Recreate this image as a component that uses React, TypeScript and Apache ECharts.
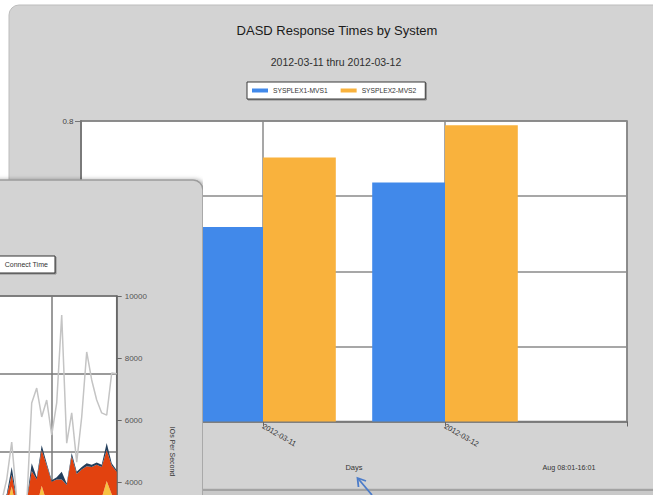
import React, { useEffect, useRef } from 'react';
import * as echarts from 'echarts';

// ---------- main chart data ----------
const mainTitle = 'DASD Response Times by System';
const mainSubtitle = '2012-03-11 thru 2012-03-12';
const mainCategories = ['', '2012-03-11', '2012-03-12', ''];
const mainSeriesNames = ['SYSPLEX1-MVS1', 'SYSPLEX2-MVS2'];
const sysplex1Mvs1 = [null, 0.518, 0.636, null];
const sysplex2Mvs2 = [null, 0.703, 0.789, null];
const xAxisName = 'Days';
const shiftLabel = 'Aug 08:01-16:01';

// ---------- overlapping panel data ----------
const panelTimes = ['13:00', '13:02', '13:04', '13:06', '13:08', '13:10', '13:12', '13:14', '13:16', '13:18', '13:20', '13:22', '13:24', '13:26', '13:28', '13:30', '13:32', '13:34', '13:36', '13:38', '13:40', '13:42', '13:44', '13:46', '13:48'];
const panelSeriesNames = ['IO Rate', 'Pend Time', 'Disconnect Time', 'Connect Time'];
const panelLegendItems = ['Connect Time'];
const ioRate = [3600, 3400, 4100, 5300, 3500, 3000, 3300, 6560, 7040, 6110, 6655, 5530, 6560, 9390, 5270, 6240, 4660, 6110, 8200, 7300, 6655, 6240, 6170, 7525, 7500];
const pendTime = [1.30, 1.25, 1.30, 1.55, 1.25, 1.15, 1.22, 1.35, 1.30, 1.56, 1.35, 1.30, 1.32, 1.36, 1.30, 1.38, 1.32, 1.35, 1.36, 1.33, 1.38, 1.40, 1.62, 1.45, 1.35];
const disconnectTime = [0.12, 0.11, 0.12, 0.15, 0.13, 0.13, 0.14, 0.40, 0.34, 0.46, 0.47, 0.31, 0.32, 0.28, 0.27, 0.56, 0.39, 0.42, 0.45, 0.47, 0.45, 0.40, 0.40, 0.37, 0.39];
const connectTime = [0.02, 0.02, 0.03, 0.10, 0.02, 0.02, 0.02, 0.10, 0.03, 0.06, 0.03, 0.02, 0.03, 0.10, 0.02, 0.04, 0.03, 0.03, 0.04, 0.03, 0.03, 0.03, 0.09, 0.03, 0.02];
const rightAxisName = 'IOs Per Second';

const FONT = '"Liberation Sans", Arial, Helvetica, sans-serif';
const PANEL_GRAY = '#d3d3d3';
const GRID_LINE = '#8a8a8a';

function mainOption(): any {
  return {
    animation: false,
    backgroundColor: '#ffffff',
    textStyle: { fontFamily: FONT },
    title: [
      {
        text: mainTitle, left: 337, top: 24, textAlign: 'center', padding: 0,
        textStyle: { fontFamily: FONT, fontSize: 13, fontWeight: 'normal', color: '#1a1a1a' },
      },
      {
        text: mainSubtitle, left: 336, top: 56, textAlign: 'center', padding: 0,
        textStyle: { fontFamily: FONT, fontSize: 10.5, fontWeight: 'normal', color: '#2e2e2e' },
      },
    ],
    legend: {
      data: mainSeriesNames,
      left: 247, top: 82,
      padding: [5, 9, 5, 5],
      itemWidth: 16, itemHeight: 4, itemGap: 13,
      icon: 'rect',
      backgroundColor: '#ffffff',
      borderColor: '#3a3a3a', borderWidth: 1,
      shadowColor: 'rgba(0,0,0,0.35)', shadowOffsetX: 1, shadowOffsetY: 1, shadowBlur: 1,
      textStyle: { fontFamily: FONT, fontSize: 6.7, color: '#333' },
    },
    grid: {
      left: 81, top: 121, right: 26, bottom: 73.5,
      show: true, backgroundColor: '#ffffff', borderColor: '#777', borderWidth: 1.5,
    },
    xAxis: {
      type: 'category',
      data: mainCategories,
      boundaryGap: false,
      name: xAxisName,
      nameLocation: 'middle',
      nameGap: 42,
      nameTextStyle: { fontFamily: FONT, fontSize: 7.5, color: '#333' },
      axisLine: { lineStyle: { color: '#777', width: 1.5 } },
      axisTick: { show: true, length: 5, interval: 0, lineStyle: { color: '#666' } },
      axisLabel: { interval: 0, rotate: -30, fontSize: 7.5, color: '#333', margin: 4 },
      splitLine: { show: true, interval: 0, lineStyle: { color: GRID_LINE, width: 1.5 } },
    },
    yAxis: {
      type: 'value', min: 0, max: 0.8, interval: 0.2,
      axisLine: { show: true, lineStyle: { color: '#7a7a7a', width: 2 } },
      axisTick: { show: true, length: 6, lineStyle: { color: '#777' } },
      axisLabel: { fontSize: 8, color: '#444', margin: 7.5, formatter: (v: number) => v.toFixed(1) },
      splitLine: { lineStyle: { color: GRID_LINE, width: 1.5 } },
    },
    series: [
      {
        name: mainSeriesNames[0], type: 'bar', data: sysplex1Mvs1,
        barWidth: '40%', barGap: '0%', itemStyle: { color: '#4189ea' },
      },
      {
        name: mainSeriesNames[1], type: 'bar', data: sysplex2Mvs2,
        barWidth: '40%', barGap: '0%', itemStyle: { color: '#f9b23d' },
      },
    ],
    graphic: [
      {
        type: 'rect', z: -10,
        shape: { x: 9, y: 5, width: 700, height: 484, r: 10 },
        style: { fill: PANEL_GRAY, stroke: '#bdbdbd', lineWidth: 1 },
      },
      {
        type: 'rect', z: -9,
        shape: { x: 0, y: 489, width: 653, height: 6 },
        style: { fill: '#c9c9c9' },
      },
      {
        type: 'line', z: -8,
        shape: { x1: 0, y1: 490, x2: 653, y2: 490 },
        style: { stroke: '#a3a3a3', lineWidth: 2 },
      },
      {
        type: 'text', z: 10, x: 569, y: 467,
        style: { text: shiftLabel, fontFamily: FONT, fontSize: 7.2, fill: '#333', textAlign: 'center', textVerticalAlign: 'middle' },
      },
      {
        type: 'polyline', z: 20,
        shape: { points: [[366, 481], [357.5, 478], [358.5, 487]] },
        style: { stroke: '#4c7cc9', lineWidth: 1.8, fill: 'none' },
      },
      {
        type: 'line', z: 20,
        shape: { x1: 358, y1: 478.5, x2: 372, y2: 495 },
        style: { stroke: '#4c7cc9', lineWidth: 1.8 },
      },
    ],
  };
}

function panelOption(): any {
  return {
    animation: false,
    backgroundColor: 'transparent',
    textStyle: { fontFamily: FONT },
    graphic: [
      {
        type: 'rect', z: -10,
        shape: { x: -10, y: 180, width: 513, height: 470, r: 10 },
        style: {
          fill: PANEL_GRAY, stroke: '#9c9c9c', lineWidth: 1.5,
          shadowColor: 'rgba(0,0,0,0.3)', shadowBlur: 4, shadowOffsetX: 2,
        },
      },
    ],
    legend: {
      data: panelLegendItems,
      right: 148, top: 256,
      padding: [5, 7, 5, 10],
      itemWidth: 14, itemHeight: 7, itemGap: 10,
      backgroundColor: '#ffffff',
      borderColor: '#333', borderWidth: 1,
      shadowColor: 'rgba(0,0,0,0.35)', shadowOffsetX: 1, shadowOffsetY: 1, shadowBlur: 1,
      textStyle: { fontFamily: FONT, fontSize: 7, color: '#333' },
    },
    grid: {
      left: 296.7, right: 86.3, top: 296, bottom: 13,
      show: true, backgroundColor: '#ffffff', borderColor: '#6e6e6e', borderWidth: 1.5,
    },
    xAxis: {
      type: 'category', data: panelTimes, boundaryGap: false,
      axisLabel: { show: false }, axisTick: { show: false },
      axisLine: { lineStyle: { color: '#6e6e6e' } },
      splitLine: { show: true, interval: (i: number) => i === 11, lineStyle: { color: '#7a7a7a', width: 1.5 } },
    },
    yAxis: [
      {
        type: 'value', min: 0, max: 4, interval: 1, position: 'left',
        axisLabel: { show: false }, axisLine: { show: false }, axisTick: { show: false },
        splitLine: { lineStyle: { color: '#7a7a7a', width: 1.5 } },
      },
      {
        type: 'value', min: 0, max: 10000, interval: 2000, position: 'right',
        name: rightAxisName, nameLocation: 'middle', nameGap: 52, nameRotate: -90,
        nameTextStyle: { fontFamily: FONT, fontSize: 7, color: '#333' },
        axisLine: { show: true, lineStyle: { color: '#666', width: 1.5 } },
        axisTick: { show: true, length: 5, lineStyle: { color: '#666' } },
        axisLabel: {
          fontSize: 8, color: '#555', margin: 8,
          // labels below the visible window are left blank
          formatter: (v: number) => (v >= 4000 ? String(v) : ''),
        },
        splitLine: { show: false },
      },
    ],
    series: [
      {
        name: panelSeriesNames[1], type: 'line', stack: 'time', yAxisIndex: 0, data: pendTime,
        symbol: 'none', lineStyle: { width: 0 },
        itemStyle: { color: '#f7c242' }, areaStyle: { color: '#f7c242', opacity: 1 },
      },
      {
        name: panelSeriesNames[2], type: 'line', stack: 'time', yAxisIndex: 0, data: disconnectTime,
        symbol: 'none', lineStyle: { width: 0 },
        itemStyle: { color: '#e2420f' }, areaStyle: { color: '#e2420f', opacity: 1 },
      },
      {
        name: panelSeriesNames[3], type: 'line', stack: 'time', yAxisIndex: 0, data: connectTime,
        symbol: 'none', lineStyle: { width: 0 },
        itemStyle: { color: '#243f5c' }, areaStyle: { color: '#243f5c', opacity: 1 },
      },
      {
        name: panelSeriesNames[0], type: 'line', yAxisIndex: 1, data: ioRate,
        symbol: 'none', lineStyle: { width: 1.5, color: '#c4c4c4' },
        itemStyle: { color: '#c4c4c4' },
      },
    ],
  };
}

export default function App() {
  const mainRef = useRef<HTMLDivElement>(null);
  const panelRef = useRef<HTMLDivElement>(null);

  useEffect(() => {
    if (!mainRef.current || !panelRef.current) return;
    const main = echarts.init(mainRef.current, null, { renderer: 'svg' });
    main.setOption(mainOption());
    const panel = echarts.init(panelRef.current, null, { renderer: 'svg' });
    panel.setOption(panelOption());
    return () => {
      main.dispose();
      panel.dispose();
    };
  }, []);

  return (
    <div style={{ position: 'fixed', left: 0, top: 0, width: 653, height: 495, overflow: 'hidden', background: '#fff' }}>
      <div ref={mainRef} style={{ position: 'absolute', left: 0, top: 0, width: 653, height: 495 }} />
      <div ref={panelRef} style={{ position: 'absolute', left: -300, top: 0, width: 503, height: 620 }} />
    </div>
  );
}
